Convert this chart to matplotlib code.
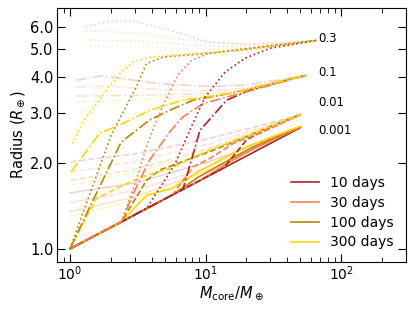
#!/usr/bin/env python3
"""
Planet radius vs core mass for several orbital periods and envelope fractions
"""

import matplotlib
matplotlib.use("Agg")
import matplotlib.pyplot as plt

# orbital periods and their colours
periods = ["10 days", "30 days", "100 days", "300 days"]
colors = ["#b22222", "#ff7f50", "#b8860b", "#ffd700"]

# envelope fractions (labels) and where the label sits
fractions = ["0.3", "0.1", "0.01", "0.001"]
label_mass = [68, 68, 68, 68]
label_rad = [5.45, 4.15, 3.25, 2.6]

# --- evolved planets (final total mass, radius) ---
# envelope fraction 0.001
m_001_p10 = [1.0, 1.55, 2.39, 3.68, 5.69, 8.79, 13.6, 21.0, 32.4, 50.0]
r_001_p10 = [1.0, 1.116, 1.243, 1.385, 1.545, 1.722, 1.92, 2.141, 2.386, 2.66]
m_001_p30 = [1.0, 1.55, 2.39, 3.68, 5.69, 8.79, 13.6, 21.0, 32.4, 50.0]
r_001_p30 = [1.0, 1.116, 1.243, 1.385, 1.545, 1.722, 1.96, 2.20, 2.43, 2.67]
m_001_p100 = [1.0, 1.55, 2.39, 3.68, 5.69, 8.79, 13.6, 21.0, 32.4, 50.0]
r_001_p100 = [1.0, 1.116, 1.243, 1.385, 1.545, 1.78, 2.0, 2.24, 2.46, 2.68]
m_001_p300 = [1.0, 1.55, 2.39, 3.68, 5.69, 8.79, 13.6, 21.0, 32.4, 50.0]
r_001_p300 = [1.0, 1.116, 1.243, 1.54, 1.63, 1.86, 2.08, 2.30, 2.49, 2.69]

# envelope fraction 0.01
m_01_p10 = [1.0, 1.55, 2.39, 3.68, 5.69, 8.79, 13.6, 20.2, 28.2, 50.5]
r_01_p10 = [1.0, 1.116, 1.243, 1.385, 1.545, 1.722, 1.92, 2.42, 2.62, 2.96]
m_01_p30 = [1.0, 1.55, 2.39, 3.68, 5.69, 8.1, 10.7, 16.0, 28.0, 50.5]
r_01_p30 = [1.0, 1.116, 1.243, 1.385, 1.545, 1.94, 2.07, 2.34, 2.6, 2.96]
m_01_p100 = [1.0, 1.55, 2.39, 3.68, 4.6, 10.7, 21.0, 32.4, 50.5]
r_01_p100 = [1.0, 1.116, 1.243, 1.74, 1.89, 2.19, 2.5, 2.72, 2.96]
m_01_p300 = [1.0, 1.56, 2.45, 3.45, 5.44, 10.7, 21.0, 32.4, 50.5]
r_01_p300 = [1.0, 1.50, 1.67, 1.79, 1.91, 2.22, 2.5, 2.72, 2.96]

# envelope fraction 0.1
m_1_p10 = [1.0, 1.55, 2.39, 3.68, 5.69, 6.8, 9.08, 14.3, 21.2, 55.4]
r_1_p10 = [1.0, 1.116, 1.243, 1.385, 1.545, 1.615, 2.6, 3.32, 3.6, 4.06]
m_1_p30 = [1.0, 1.55, 2.39, 3.0, 3.87, 5.44, 6.8, 9.6, 16.0, 55.4]
r_1_p30 = [1.0, 1.116, 1.243, 1.6, 2.05, 2.57, 2.9, 3.23, 3.45, 4.06]
m_1_p100 = [1.0, 1.55, 2.39, 3.87, 5.44, 8.1, 15.0, 55.4]
r_1_p100 = [1.0, 1.55, 2.37, 2.83, 3.06, 3.32, 3.5, 4.06]
m_1_p300 = [1.02, 1.65, 2.45, 3.87, 6.8, 15.1, 55.4]
r_1_p300 = [1.86, 2.54, 2.75, 3.06, 3.32, 3.5, 4.06]

# envelope fraction 0.3
m_3_p10 = [1.0, 1.55, 2.39, 3.67, 5.92, 7.66, 9.9, 13.9, 19.4, 29.9, 65.6]
r_3_p10 = [1.0, 1.116, 1.243, 1.385, 1.97, 2.61, 3.40, 4.16, 4.65, 5.05, 5.38]
m_3_p30 = [1.0, 1.55, 2.39, 2.99, 3.55, 4.21, 4.99, 6.22, 7.9, 10.7, 17.1, 65.6]
r_3_p30 = [1.0, 1.116, 1.243, 1.67, 2.18, 2.72, 3.27, 4.06, 4.58, 4.85, 4.97, 5.38]
m_3_p100 = [1.0, 2.01, 3.08, 3.66, 4.85, 10.7, 65.6]
r_3_p100 = [1.0, 2.5, 3.69, 4.46, 4.70, 4.85, 5.38]
m_3_p300 = [1.045, 1.24, 1.56, 1.9, 2.39, 2.91, 3.87, 9.1, 21.0, 65.6]
r_3_p300 = [2.34, 2.79, 3.21, 3.65, 4.17, 4.51, 4.70, 4.85, 4.98, 5.38]

# --- initial planets (faded) ---
mi_3_p10 = [1.3, 2.0, 3.0, 5.0, 10.7, 20.0, 40.0, 65.6]
ri_3_p10 = [6.0, 6.29, 6.29, 5.9, 5.3, 5.22, 5.28, 5.38]
mi_3_p30 = [1.3, 3.0, 10.7, 20.0, 40.0, 65.6]
ri_3_p30 = [5.83, 5.7, 5.3, 5.2, 5.27, 5.38]
mi_3_p100 = [1.3, 3.0, 10.7, 20.0, 40.0, 65.6]
ri_3_p100 = [5.41, 5.35, 5.15, 5.1, 5.22, 5.38]
mi_3_p300 = [1.3, 3.0, 10.7, 20.0, 40.0, 65.6]
ri_3_p300 = [5.13, 5.12, 5.0, 5.02, 5.18, 5.38]

mi_1_p10 = [1.1, 1.74, 4.58, 10.7, 20.0, 55.4]
ri_1_p10 = [3.9, 4.04, 3.79, 3.71, 3.75, 4.06]
mi_1_p30 = [1.1, 2.0, 5.0, 10.7, 20.0, 55.4]
ri_1_p30 = [3.69, 3.72, 3.6, 3.58, 3.66, 4.06]
mi_1_p100 = [1.1, 3.0, 10.7, 20.0, 55.4]
ri_1_p100 = [3.43, 3.45, 3.5, 3.6, 4.06]
mi_1_p300 = [1.1, 3.0, 10.7, 20.0, 55.4]
ri_1_p300 = [3.27, 3.32, 3.45, 3.57, 4.06]

mi_01_p10 = [1.01, 3.0, 10.7, 25.0, 50.5]
ri_01_p10 = [2.02, 2.15, 2.44, 2.7, 2.96]
mi_01_p30 = [1.01, 3.0, 10.7, 25.0, 50.5]
ri_01_p30 = [1.86, 2.02, 2.33, 2.65, 2.96]
mi_01_p100 = [1.01, 3.0, 10.7, 25.0, 50.5]
ri_01_p100 = [1.74, 1.9, 2.25, 2.62, 2.96]
mi_01_p300 = [1.01, 3.0, 10.7, 25.0, 50.5]
ri_01_p300 = [1.67, 1.85, 2.22, 2.6, 2.96]

mi_001_p10 = [1.0, 3.0, 10.0, 25.0, 50.0]
ri_001_p10 = [1.57, 1.7, 2.0, 2.35, 2.68]
mi_001_p30 = [1.0, 3.0, 10.0, 25.0, 50.0]
ri_001_p30 = [1.45, 1.6, 1.92, 2.32, 2.68]
mi_001_p100 = [1.0, 3.0, 10.0, 25.0, 50.0]
ri_001_p100 = [1.35, 1.52, 1.87, 2.3, 2.68]
mi_001_p300 = [1.0, 3.0, 10.0, 25.0, 50.0]
ri_001_p300 = [1.30, 1.48, 1.85, 2.28, 2.68]


def main():
    fig = plt.figure(figsize=(4.15, 3.11), dpi=100)
    ax = fig.add_axes([0.137, 0.158, 0.841, 0.817])

    # group curves by envelope fraction, smallest fraction drawn first
    groups = [
        ("-", [(m_001_p10, r_001_p10), (m_001_p30, r_001_p30), (m_001_p100, r_001_p100), (m_001_p300, r_001_p300)],
         [(mi_001_p10, ri_001_p10), (mi_001_p30, ri_001_p30), (mi_001_p100, ri_001_p100), (mi_001_p300, ri_001_p300)]),
        ("--", [(m_01_p10, r_01_p10), (m_01_p30, r_01_p30), (m_01_p100, r_01_p100), (m_01_p300, r_01_p300)],
         [(mi_01_p10, ri_01_p10), (mi_01_p30, ri_01_p30), (mi_01_p100, ri_01_p100), (mi_01_p300, ri_01_p300)]),
        ("-.", [(m_1_p10, r_1_p10), (m_1_p30, r_1_p30), (m_1_p100, r_1_p100), (m_1_p300, r_1_p300)],
         [(mi_1_p10, ri_1_p10), (mi_1_p30, ri_1_p30), (mi_1_p100, ri_1_p100), (mi_1_p300, ri_1_p300)]),
        (":", [(m_3_p10, r_3_p10), (m_3_p30, r_3_p30), (m_3_p100, r_3_p100), (m_3_p300, r_3_p300)],
         [(mi_3_p10, ri_3_p10), (mi_3_p30, ri_3_p30), (mi_3_p100, ri_3_p100), (mi_3_p300, ri_3_p300)]),
    ]

    # faded initial radii first
    for ls, evolved, initial in groups:
        for i, (m, r) in enumerate(initial):
            ax.plot(m, r, ls=ls, color=colors[i], alpha=0.2, lw=1.2)

    for ls, evolved, initial in groups:
        for i, (m, r) in enumerate(evolved):
            ax.plot(m, r, ls=ls, color=colors[i], lw=1.2)

    for k, frac in enumerate(fractions):
        ax.text(label_mass[k], label_rad[k], frac, fontsize=8.5, va="center", ha="left")

    # legend handles
    for i, p in enumerate(periods):
        ax.plot([], [], color=colors[i], lw=1.2, label=p)
    ax.legend(loc="lower right", frameon=False, fontsize=10, handlelength=2.0,
              bbox_to_anchor=(1.0, 0.0), labelspacing=0.41)

    ax.set_xscale("log")
    ax.set_yscale("log")
    ax.set_xlim(0.8, 300)
    ax.set_ylim(0.9, 7)
    ax.set_yticks([1, 2, 3, 4, 5, 6])
    ax.set_yticklabels(["1.0", "2.0", "3.0", "4.0", "5.0", "6.0"])
    ax.tick_params(which="both", direction="in", top=True, right=True, labelsize=10.5)
    ax.tick_params(which="major", length=6)
    ax.tick_params(which="minor", length=3.5)
    ax.tick_params(axis="x", which="both", pad=1.5, labelsize=10)
    ax.tick_params(axis="y", which="both", pad=2.5)

    ax.set_xlabel(r"$M_{\rm core}/M_\oplus$", fontsize=10.5, labelpad=1)
    ax.set_ylabel(r"Radius ($R_\oplus$)", fontsize=10.5, labelpad=2)

    fig.savefig("out.png", dpi=100)
    plt.close(fig)


if __name__ == "__main__":
    main()
